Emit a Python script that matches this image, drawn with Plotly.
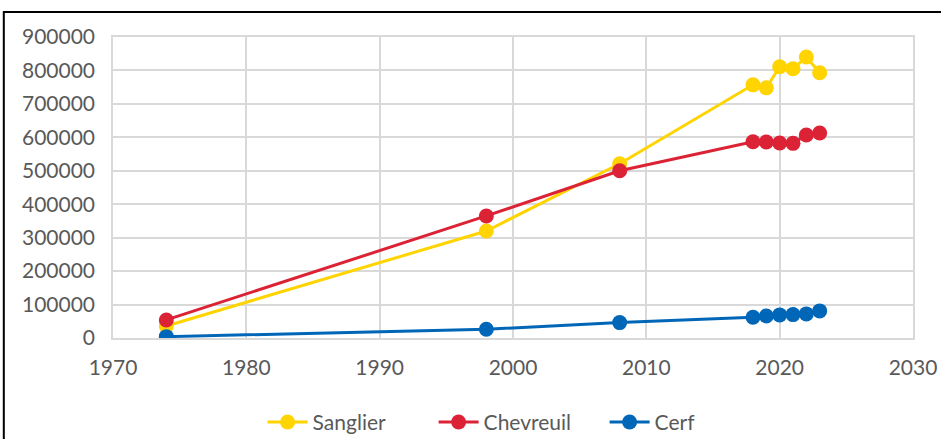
import plotly.graph_objects as go

years = [1974, 1998, 2008, 2018, 2019, 2020, 2021, 2022, 2023]
sanglier = [36000, 320000, 521000, 757000, 748000, 811000, 805000, 840000, 793000]
chevreuil = [54000, 365000, 500000, 587000, 586000, 583000, 582000, 607000, 613000]
cerf = [4000, 26000, 46000, 62000, 66000, 69000, 70000, 72000, 81000]

series = [
    ("Sanglier", sanglier, "#FFD400"),
    ("Chevreuil", chevreuil, "#DC2336"),
    ("Cerf", cerf, "#0066B8"),
]

x_ticks = [1970, 1980, 1990, 2000, 2010, 2020, 2030]
y_ticks = [0, 100000, 200000, 300000, 400000, 500000, 600000, 700000, 800000, 900000]

fig = go.Figure()
for name, vals, col in series:
    fig.add_trace(go.Scatter(
        x=years, y=vals, name=name, mode="lines+markers",
        line=dict(color=col, width=3),
        marker=dict(color=col, size=15),
    ))

font_fam = "Lato, 'Open Sans', sans-serif"
fig.update_layout(
    width=941, height=439,
    margin=dict(l=113, r=28, t=37, b=101, autoexpand=False),
    paper_bgcolor="white", plot_bgcolor="white",
    font=dict(family=font_fam, size=21, color="#595959"),
    showlegend=True,
    legend=dict(orientation="h", x=0.187, xanchor="left", y=-0.28, yanchor="middle",
                font=dict(size=21, color="#595959"), itemwidth=40,
                entrywidth=116, entrywidthmode="pixels",
                traceorder="normal"),
    xaxis=dict(range=[1970, 2030], tickvals=x_ticks, ticktext=[str(v) for v in x_ticks],
               showgrid=True, gridcolor="#D9D9D9", gridwidth=1.5,
               showline=True, linecolor="#D9D9D9", linewidth=1.5, mirror=True,
               zeroline=False, ticks="outside", ticklen=10, tickcolor="rgba(0,0,0,0)",
               tickfont=dict(size=21, color="#595959")),
    yaxis=dict(range=[0, 900000], tickvals=y_ticks, ticktext=[str(v) for v in y_ticks],
               showgrid=True, gridcolor="#D9D9D9", gridwidth=1.5,
               showline=True, linecolor="#D9D9D9", linewidth=1.5, mirror=True,
               zeroline=False, ticks="outside", ticklen=12, tickcolor="rgba(0,0,0,0)",
               tickfont=dict(size=21, color="#595959")),
    shapes=[dict(type="rect", xref="paper", yref="paper",
                 x0=-0.1365, x1=1.06, y0=-0.36, y1=1.083,
                 line=dict(color="black", width=2), fillcolor="rgba(0,0,0,0)", layer="above")],
)

fig.write_html("out.html", config={"displayModeBar": False},
               post_script="document.body.style.margin='0';document.body.style.overflow='hidden';")
